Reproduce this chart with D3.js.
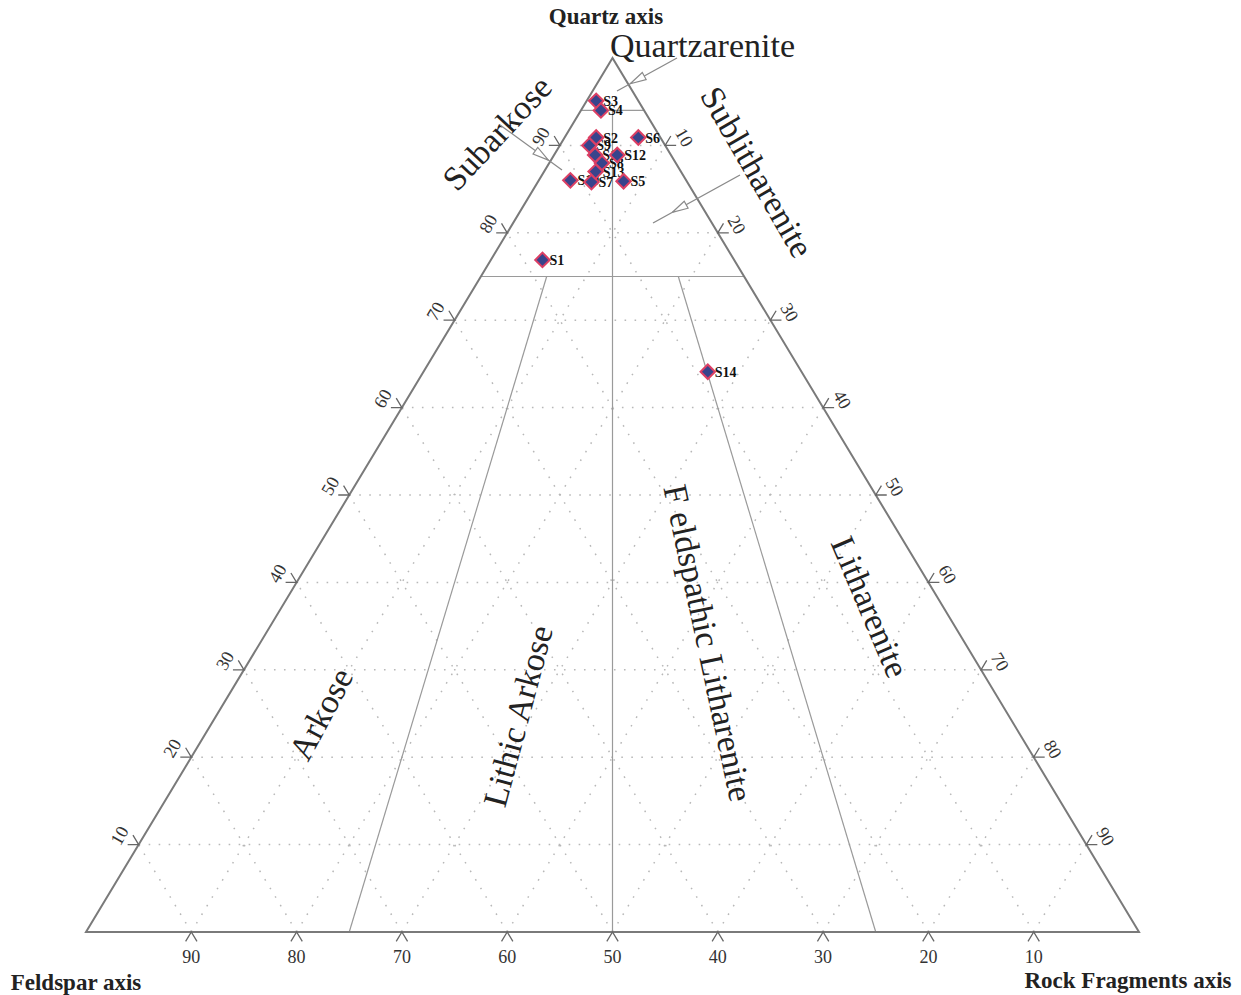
<!DOCTYPE html>
<html>
<head>
<meta charset="utf-8">
<script src="https://cdn.jsdelivr.net/npm/d3@7"></script>
<style>
  body { margin: 0; background: #fff; }
  svg { display: block; font-family: "Liberation Serif", "Times New Roman", serif; }
</style>
</head>
<body>
<svg id="chart" width="1241" height="995"></svg>
<script>
// sample composition, percent of Q + F + R
const samples = ['S1', 'S2', 'S3', 'S4', 'S5', 'S6', 'S7', 'S8', 'S9', 'S10', 'S11', 'S12', 'S13', 'S14'];
const quartz = [76.9, 90.9, 95.1, 94.0, 85.9, 90.9, 85.8, 88.0, 90.0, 86.0, 88.9, 88.9, 87.0, 64.1];
const feldspar = [18.2, 6.1, 4.0, 4.1, 6.0, 2.1, 9.1, 7.0, 7.2, 11.0, 7.2, 5.1, 8.1, 8.9];
const rockFragments = [4.9, 3.0, 0.9, 1.9, 8.1, 7.0, 5.1, 5.0, 2.8, 3.0, 3.9, 6.0, 4.9, 27.0];

const gridSteps = [10, 20, 30, 40, 50, 60, 70, 80, 90];
const tickLabels = ['10', '20', '30', '40', '50', '60', '70', '80', '90'];

// Folk classification boundaries
const quartzBoundaries = [94, 75];
const ratioLines = [25, 50, 75];            // R / (F + R), percent
const ratioLineTop = [75, 94, 75];          // quartz level where each ratio line starts

const regionNames = ['Quartzarenite', 'Subarkose', 'Sublitharenite', 'Arkose',
  'Lithic Arkose', 'F eldspathic Litharenite', 'Litharenite'];
const axisTitles = ['Quartz axis', 'Feldspar axis', 'Rock Fragments axis'];

(function () {
  const svg = d3.select('#chart');

  // ternary -> screen: x runs with R + Q/2, y with Q
  const x = d3.scaleLinear().domain([0, 100]).range([86, 1139]);
  const y = d3.scaleLinear().domain([0, 100]).range([932, 58]);
  const pt = (q, r) => [x(r + q / 2), y(q)];
  const line = d3.line();

  const unit = (a, b) => {
    const dx = b[0] - a[0], dy = b[1] - a[1];
    const l = Math.hypot(dx, dy);
    return [dx / l, dy / l];
  };
  const dirR = unit(pt(0, 0), pt(100, 0));   // parallel to left edge, upward
  const dirF = unit(pt(0, 100), pt(100, 0)); // parallel to right edge, upward

  // dotted grid
  const grid = svg.append('g')
    .attr('fill', 'none')
    .attr('stroke', '#b8b8b8')
    .attr('stroke-width', 1.5)
    .attr('stroke-dasharray', '1.6,8.4');

  gridSteps.forEach(v => {
    grid.append('path').attr('d', line([pt(v, 0), pt(v, 100 - v)]));
    grid.append('path').attr('d', line([pt(0, v), pt(100 - v, v)]));
    grid.append('path').attr('d', line([pt(0, 100 - v), pt(100 - v, 0)]));
  });

  // classification lines
  const cls = svg.append('g')
    .attr('fill', 'none')
    .attr('stroke', '#9a9a9a')
    .attr('stroke-width', 1.2);

  quartzBoundaries.forEach(q => {
    cls.append('path').attr('d', line([pt(q, 0), pt(q, 100 - q)]));
  });
  ratioLines.forEach((k, i) => {
    const q0 = ratioLineTop[i];
    cls.append('path').attr('d', line([pt(q0, k * (100 - q0) / 100), pt(0, k)]));
  });

  // triangle
  svg.append('path')
    .attr('d', line([pt(100, 0), pt(0, 0), pt(0, 100)]) + 'Z')
    .attr('fill', 'none')
    .attr('stroke', '#7a7a7a')
    .attr('stroke-width', 2)
    .attr('stroke-linejoin', 'miter');

  // tick chevrons and labels
  const ticks = svg.append('g');
  const armLen = 11;
  function chevron(p, a1, a2) {
    return line([
      [p[0] + a1[0] * armLen, p[1] + a1[1] * armLen],
      p,
      [p[0] + a2[0] * armLen, p[1] + a2[1] * armLen]
    ]);
  }
  const tickStyle = sel => sel
    .attr('fill', 'none')
    .attr('stroke', '#666')
    .attr('stroke-width', 1.3);
  const labelStyle = sel => sel
    .attr('font-size', 18)
    .attr('fill', '#333')
    .attr('text-anchor', 'middle')
    .attr('dominant-baseline', 'central');

  gridSteps.forEach((v, i) => {
    // bottom edge: feldspar
    let p = pt(0, 100 - v);
    ticks.append('path').attr('d', chevron(p, [-dirR[0], -dirR[1]], [-dirF[0], -dirF[1]])).call(tickStyle);
    ticks.append('text').attr('x', p[0]).attr('y', p[1] + 25).text(tickLabels[i]).call(labelStyle);

    // left edge: quartz
    p = pt(v, 0);
    ticks.append('path').attr('d', chevron(p, [-1, 0], dirF)).call(tickStyle);
    ticks.append('text')
      .attr('transform', `translate(${p[0] - 19},${p[1] - 9}) rotate(-60)`)
      .text(tickLabels[i]).call(labelStyle);

    // right edge: rock fragments
    p = pt(100 - v, v);
    ticks.append('path').attr('d', chevron(p, [1, 0], dirR)).call(tickStyle);
    ticks.append('text')
      .attr('transform', `translate(${p[0] + 19},${p[1] - 8}) rotate(60)`)
      .text(tickLabels[i]).call(labelStyle);
  });

  // axis titles
  const titlePos = [[606, 24], [76, 990], [1128, 988]];
  axisTitles.forEach((t, i) => {
    svg.append('text')
      .attr('x', titlePos[i][0])
      .attr('y', titlePos[i][1])
      .attr('text-anchor', 'middle')
      .attr('font-weight', 'bold')
      .attr('font-size', 23)
      .attr('fill', '#222')
      .text(t);
  });

  // region names
  const regionPos = [
    { x: 610, y: 45, r: 0, anchor: 'start' },
    { x: 497, y: 133, r: -47 },
    { x: 757, y: 172, r: 60 },
    { x: 321, y: 714, r: -62 },
    { x: 518, y: 716, r: -75 },
    { x: 708, y: 643, r: 78 },
    { x: 870, y: 607, r: 67 }
  ];
  regionNames.forEach((name, i) => {
    const o = regionPos[i];
    svg.append('text')
      .attr('transform', `translate(${o.x},${o.y}) rotate(${o.r})`)
      .attr('text-anchor', o.anchor || 'middle')
      .attr('dominant-baseline', 'central')
      .attr('font-size', 34)
      .attr('fill', '#222')
      .text(name);
  });

  // callout arrows for the small upper fields
  const callouts = [
    [[677, 58], [617, 91]],
    [[500, 125], [562, 170]],
    [[740, 175], [653, 223]]
  ];
  callouts.forEach(([a, b]) => {
    svg.append('path').attr('d', line([a, b]))
      .attr('stroke', '#8a8a8a').attr('stroke-width', 1.3).attr('fill', 'none');
    const u = unit(a, b);
    const tip = [a[0] + (b[0] - a[0]) * 0.78, a[1] + (b[1] - a[1]) * 0.78];
    const base = [tip[0] - u[0] * 16, tip[1] - u[1] * 16];
    const n = [-u[1] * 4, u[0] * 4];
    svg.append('path')
      .attr('d', line([tip, [base[0] + n[0], base[1] + n[1]], [base[0] - n[0], base[1] - n[1]]]) + 'Z')
      .attr('fill', '#fff').attr('stroke', '#8a8a8a').attr('stroke-width', 1.2);
  });

  // samples
  const data = samples.map((s, i) => ({
    name: s, q: quartz[i], f: feldspar[i], r: rockFragments[i]
  }));
  const pos = d => pt(100 * d.q / (d.q + d.f + d.r), 100 * d.r / (d.q + d.f + d.r));

  svg.append('g').selectAll('text')
    .data(data)
    .join('text')
    .attr('x', d => pos(d)[0] + 7)
    .attr('y', d => pos(d)[1] + 5)
    .attr('font-size', 14)
    .attr('font-weight', 'bold')
    .attr('fill', '#111')
    .text(d => d.name);

  svg.append('g').selectAll('path')
    .data(data)
    .join('path')
    .attr('transform', d => `translate(${pos(d)[0]},${pos(d)[1]}) rotate(45)`)
    .attr('d', d3.symbol(d3.symbolSquare, 105)())
    .attr('fill', '#38448c')
    .attr('stroke', '#dc3f64')
    .attr('stroke-width', 2);
})();
</script>
</body>
</html>
